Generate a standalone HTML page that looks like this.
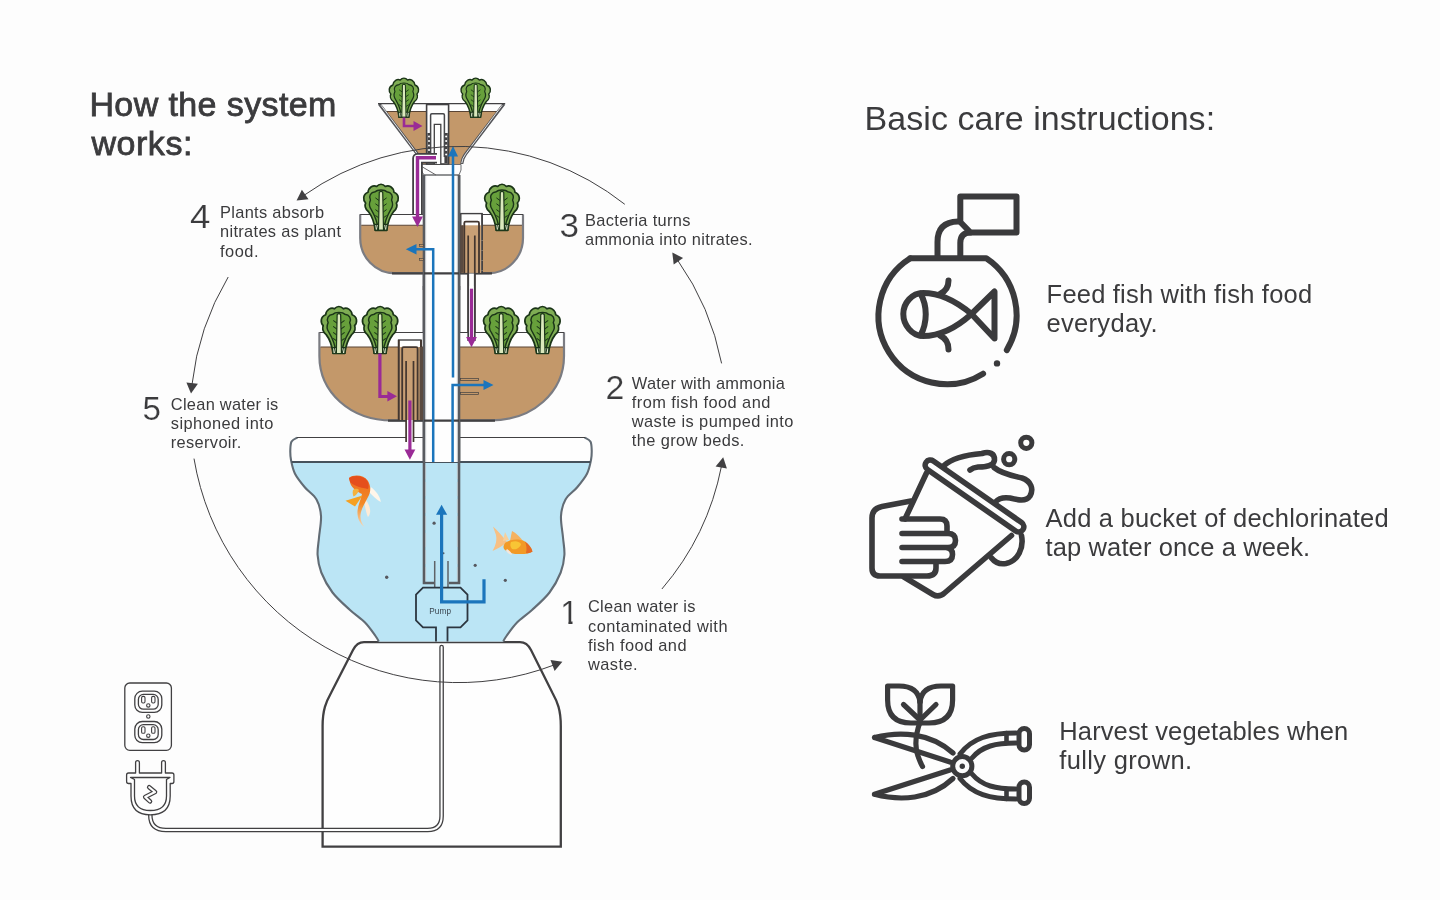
<!DOCTYPE html>
<html lang="en">
<head>
<meta charset="utf-8">
<title>How the system works</title>
<style>
html,body{margin:0;padding:0;background:#fdfdfd;}
body{width:1440px;height:900px;overflow:hidden;position:relative;font-family:"Liberation Sans",sans-serif;}
svg{position:absolute;left:0;top:0;display:block;will-change:transform;}
svg text{font-family:"Liberation Sans",sans-serif;white-space:pre;}
</style>
</head>
<body>
<svg width="1440" height="900" viewBox="0 0 1440 900">
<rect x="0" y="0" width="1440" height="900" fill="#fdfdfd"/>
<path d="M322.6,846.7 L322.6,726 C322.6,710 326,702 331,693 L353,650 Q357,642.2 364,642.2 L520,642.2 Q527,642.2 531,650 L552.5,693 C557.5,702 560.8,710 560.8,726 L560.8,846.7 Z" fill="#fefefe" stroke="#414042" stroke-width="2.3" stroke-linejoin="miter"/>
<clipPath id="resclip"><path d="M297.50,437.50 C296.52,438.17 292.80,439.42 291.60,441.50 C290.40,443.58 290.40,446.92 290.30,450.00 C290.20,453.08 290.22,456.05 291.00,460.00 C291.78,463.95 292.67,469.12 295.00,473.70 C297.33,478.28 301.42,483.20 305.00,487.50 C308.58,491.80 313.83,494.75 316.50,499.50 C319.17,504.25 320.58,509.67 321.00,516.00 C321.42,522.33 319.57,531.00 319.00,537.50 C318.43,544.00 317.22,549.17 317.60,555.00 C317.98,560.83 318.82,566.25 321.30,572.50 C323.78,578.75 327.72,586.25 332.50,592.50 C337.28,598.75 344.58,605.00 350.00,610.00 C355.42,615.00 360.75,618.17 365.00,622.50 C369.25,626.83 373.20,632.83 375.50,636.00 C377.80,639.17 378.25,640.58 378.80,641.50 L503.20,641.50 C503.75,640.58 504.20,639.17 506.50,636.00 C508.80,632.83 512.75,626.83 517.00,622.50 C521.25,618.17 526.58,615.00 532.00,610.00 C537.42,605.00 544.72,598.75 549.50,592.50 C554.28,586.25 558.22,578.75 560.70,572.50 C563.18,566.25 564.02,560.83 564.40,555.00 C564.78,549.17 563.57,544.00 563.00,537.50 C562.43,531.00 560.58,522.33 561.00,516.00 C561.42,509.67 562.83,504.25 565.50,499.50 C568.17,494.75 573.42,491.80 577.00,487.50 C580.58,483.20 584.67,478.28 587.00,473.70 C589.33,469.12 590.22,463.95 591.00,460.00 C591.78,456.05 591.80,453.08 591.70,450.00 C591.60,446.92 591.60,443.58 590.40,441.50 C589.20,439.42 585.48,438.17 584.50,437.50 Z"/></clipPath>
<path d="M297.50,437.50 C296.52,438.17 292.80,439.42 291.60,441.50 C290.40,443.58 290.40,446.92 290.30,450.00 C290.20,453.08 290.22,456.05 291.00,460.00 C291.78,463.95 292.67,469.12 295.00,473.70 C297.33,478.28 301.42,483.20 305.00,487.50 C308.58,491.80 313.83,494.75 316.50,499.50 C319.17,504.25 320.58,509.67 321.00,516.00 C321.42,522.33 319.57,531.00 319.00,537.50 C318.43,544.00 317.22,549.17 317.60,555.00 C317.98,560.83 318.82,566.25 321.30,572.50 C323.78,578.75 327.72,586.25 332.50,592.50 C337.28,598.75 344.58,605.00 350.00,610.00 C355.42,615.00 360.75,618.17 365.00,622.50 C369.25,626.83 373.20,632.83 375.50,636.00 C377.80,639.17 378.25,640.58 378.80,641.50 L503.20,641.50 C503.75,640.58 504.20,639.17 506.50,636.00 C508.80,632.83 512.75,626.83 517.00,622.50 C521.25,618.17 526.58,615.00 532.00,610.00 C537.42,605.00 544.72,598.75 549.50,592.50 C554.28,586.25 558.22,578.75 560.70,572.50 C563.18,566.25 564.02,560.83 564.40,555.00 C564.78,549.17 563.57,544.00 563.00,537.50 C562.43,531.00 560.58,522.33 561.00,516.00 C561.42,509.67 562.83,504.25 565.50,499.50 C568.17,494.75 573.42,491.80 577.00,487.50 C580.58,483.20 584.67,478.28 587.00,473.70 C589.33,469.12 590.22,463.95 591.00,460.00 C591.78,456.05 591.80,453.08 591.70,450.00 C591.60,446.92 591.60,443.58 590.40,441.50 C589.20,439.42 585.48,438.17 584.50,437.50 Z" fill="#fefefe"/>
<rect x="280" y="462" width="320" height="185" fill="#bbe5f5" clip-path="url(#resclip)"/>
<path d="M297.50,437.50 C296.52,438.17 292.80,439.42 291.60,441.50 C290.40,443.58 290.40,446.92 290.30,450.00 C290.20,453.08 290.22,456.05 291.00,460.00 C291.78,463.95 292.67,469.12 295.00,473.70 C297.33,478.28 301.42,483.20 305.00,487.50 C308.58,491.80 313.83,494.75 316.50,499.50 C319.17,504.25 320.58,509.67 321.00,516.00 C321.42,522.33 319.57,531.00 319.00,537.50 C318.43,544.00 317.22,549.17 317.60,555.00 C317.98,560.83 318.82,566.25 321.30,572.50 C323.78,578.75 327.72,586.25 332.50,592.50 C337.28,598.75 344.58,605.00 350.00,610.00 C355.42,615.00 360.75,618.17 365.00,622.50 C369.25,626.83 373.20,632.83 375.50,636.00 C377.80,639.17 378.25,640.58 378.80,641.50  M584.50,437.50 C585.48,438.17 589.20,439.42 590.40,441.50 C591.60,443.58 591.60,446.92 591.70,450.00 C591.80,453.08 591.78,456.05 591.00,460.00 C590.22,463.95 589.33,469.12 587.00,473.70 C584.67,478.28 580.58,483.20 577.00,487.50 C573.42,491.80 568.17,494.75 565.50,499.50 C562.83,504.25 561.42,509.67 561.00,516.00 C560.58,522.33 562.43,531.00 563.00,537.50 C563.57,544.00 564.78,549.17 564.40,555.00 C564.02,560.83 563.18,566.25 560.70,572.50 C558.22,578.75 554.28,586.25 549.50,592.50 C544.72,598.75 537.42,605.00 532.00,610.00 C526.58,615.00 521.25,618.17 517.00,622.50 C512.75,626.83 508.80,632.83 506.50,636.00 C504.20,639.17 503.75,640.58 503.20,641.50 " fill="none" stroke="#626c75" stroke-width="2.1"/>
<path d="M297,437.5 L585,437.5" stroke="#414042" stroke-width="1.2"/>
<path d="M291.5,462 L590.5,462" stroke="#46525c" stroke-width="2"/>
<circle cx="434.1" cy="523.2" r="1.6" fill="#56585f"/>
<circle cx="386.7" cy="577.3" r="1.7" fill="#56585f"/>
<circle cx="475.2" cy="565.3" r="1.6" fill="#56585f"/>
<circle cx="505.3" cy="580.3" r="1.6" fill="#56585f"/>
<circle cx="443.5" cy="553.3" r="1.0" fill="#56585f"/>
<filter id="bl" x="-20%" y="-20%" width="140%" height="140%"><feGaussianBlur stdDeviation="0.6"/></filter>
<g filter="url(#bl)"><path d="M370.8,487 C376,491 380,496 380.8,502 C377,500 373,496 369,492 Z" fill="#fff6ea"/><path d="M366,500 C370,506 372,512 368,517 C366,513 365,506 364,501 Z" fill="#fdebd6"/><linearGradient id="fg" x1="0" y1="0" x2="0" y2="1"><stop offset="0" stop-color="#ee6a20"/><stop offset="0.55" stop-color="#f28a26"/><stop offset="1" stop-color="#f6d9b8"/></linearGradient><path d="M349,478 C354,474 364,475 368,481 C371,486 371,492 368,497 C365,503 361,509 360.5,515 C360,520 362,524 364.5,527 C360,524 357,518 357.5,511 C358,505 361,499 362,494 C358,492 352,488 350.5,484 Z" fill="url(#fg)"/><path d="M349,478 C354,474.5 363,475.5 367,480.5 C369,484 369,487 368,489 C362,488 354,486 350,482 Z" fill="#e5501f"/><path d="M345.5,500.8 L362.5,495.5 L355,506.5 Z" fill="#f5a020"/><path d="M353,490 C355,488 358,488.5 359,490 C358,493 356,495.5 353.5,496.5 C352.5,494 352.5,492 353,490 Z" fill="#f4b23c"/><path d="M493,526.5 C498,531 503,537 507,542 C503,546 497,549 492.5,551 C496,545 497,540 496,535 Z" fill="#f7c084"/><path d="M505,532 L509,540 L503,541 Z" fill="#f8cf9a"/><path d="M512,531 C516,533 520,537 523,541 L510,541 Z" fill="#f5b260"/><path d="M505,543 C510,539 519,538.5 525,541.5 C529,544 531.5,548 532.5,551.5 C530,553.5 526,554 521,554 C515,554.5 508,553.5 504,549 C503,547 503.5,545 505,543 Z" fill="#f29a27"/><path d="M511,542 C515,540.5 519,541 521,544 C520,548 516,550 512,549 C510,547 510,544 511,542 Z" fill="#f8c535"/><path d="M525,541.5 C529,544 531.5,548 532.5,551.5 C530,553 528,553.5 526,553 C527,549 526.5,545 525,541.5 Z" fill="#e56a25"/><path d="M507,549 C510,551 512,553 512,555 C509,554.5 507,552.5 506,550.5 Z" fill="#f3e6dc"/></g>
<rect x="424" y="175" width="35" height="287" fill="#fefefe"/>
<path d="M421,164.5 L461,164.5 L461,170 L459,175 L424,175 L421,170 Z" fill="#fefefe" stroke="#6d6e71" stroke-width="1"/>
<path d="M422.5,167 L436,175" stroke="#414042" stroke-width="0.8"/>
<path d="M424,175 L459,175" stroke="#6d6e71" stroke-width="1"/>
<path d="M424,175 L424,583 L434,583 M459,175 L459,583 L449,583" fill="none" stroke="#595b60" stroke-width="2.6"/>
<path d="M425.6,176 L425.6,581.5 M457.4,176 L457.4,581.5" fill="none" stroke="#b9bcc0" stroke-width="0.8" stroke-dasharray="14 3"/>
<path d="M378.6,103.8 L504.6,103.8 L466,154 Q462.5,158.5 462,164 L421,164 Q420.5,158.5 417,154 Z" fill="#fefefe"/>
<path d="M384.5,111.5 L498.7,111.5 L466,154 Q462.5,158.5 462,164 L421,164 Q420.5,158.5 417,154 Z" fill="#c3986a"/>
<path d="M384.5,111.5 L498.7,111.5" stroke="#5a4535" stroke-width="1.2"/>
<path d="M379.2,103.8 L417.4,154 Q420.8,158.5 421.2,164 M504,103.8 L465.6,154 Q462.2,158.5 461.8,164" fill="none" stroke="#55565a" stroke-width="3"/>
<path d="M381,105.2 L417.4,154 Q420.8,158.5 421.2,163 M502.2,105.2 L465.6,154 Q462.2,158.5 461.8,163" fill="none" stroke="#f4f4f4" stroke-width="0.9"/>
<path d="M378,103.7 L505.2,103.7" stroke="#414042" stroke-width="1.3"/>
<rect x="426.6" y="104.5" width="22" height="59.5" fill="#fefefe" stroke="#414042" stroke-width="1.6"/>
<rect x="427.4" y="133" width="3.4" height="30" fill="#414042"/>
<rect x="444.4" y="133" width="3.4" height="30" fill="#414042"/>
<circle cx="429.1" cy="136.5" r="1.1" fill="#fff"/><circle cx="446.1" cy="136.5" r="1.1" fill="#fff"/>
<circle cx="429.1" cy="141" r="1.1" fill="#fff"/><circle cx="446.1" cy="141" r="1.1" fill="#fff"/>
<circle cx="429.1" cy="145.5" r="1.1" fill="#fff"/><circle cx="446.1" cy="145.5" r="1.1" fill="#fff"/>
<circle cx="429.1" cy="150" r="1.1" fill="#fff"/><circle cx="446.1" cy="150" r="1.1" fill="#fff"/>
<circle cx="429.1" cy="154.5" r="1.1" fill="#fff"/><circle cx="446.1" cy="154.5" r="1.1" fill="#fff"/>
<path d="M430.6,157 L430.6,115 Q430.6,113.8 431.8,113.8 L443.2,113.8 Q444.4,113.8 444.4,115 L444.4,157" fill="#fefefe" stroke="#47484b" stroke-width="1.5"/>
<path d="M434.3,164 L434.3,124.3 L440.8,124.3 L440.8,164" fill="#fefefe" stroke="#414042" stroke-width="1.3"/>
<path d="M437,158.2 L417.5,158.2 L417.5,215" fill="none" stroke="#414042" stroke-width="10.6" stroke-linejoin="round"/>
<path d="M437.5,158.2 L417.5,158.2 L417.5,216" fill="none" stroke="#fefefe" stroke-width="7" stroke-linejoin="round"/>
<clipPath id="mbc"><path d="M360.2,214.3 L360.2,238 C360.2,257.36 375.5,273.2 394.2,273.2 L489,273.2 C507.7,273.2 523,257.36 523,238 L523,214.3"/></clipPath>
<path d="M360.2,214.3 L360.2,238 C360.2,257.36 375.5,273.2 394.2,273.2 L489,273.2 C507.7,273.2 523,257.36 523,238 L523,214.3" fill="#fefefe"/>
<rect x="355" y="225.3" width="175" height="50" fill="#c3986a" clip-path="url(#mbc)"/>
<path d="M361.2,225.3 L522,225.3" stroke="#5a4535" stroke-width="1.1"/>
<path d="M360.2,214.3 L360.2,238 C360.2,257.36 375.5,273.2 394.2,273.2 L489,273.2 C507.7,273.2 523,257.36 523,238 L523,214.3" fill="none" stroke="#7b7c82" stroke-width="2.2"/>
<path d="M360.2,214.5 L523,214.5" stroke="#414042" stroke-width="1.1"/>
<path d="M392,273.4 L492,273.4" stroke="#414042" stroke-width="2.4"/>
<rect x="425" y="176" width="33" height="110" fill="#fefefe"/>
<path d="M424,175 L424,290 M459,175 L459,290" fill="none" stroke="#595b60" stroke-width="2.6"/>
<path d="M425.7,176 L425.7,290 M457.3,176 L457.3,290" fill="none" stroke="#c4c6c9" stroke-width="0.8"/>
<path d="M424,273.4 L459,273.4" stroke="#414042" stroke-width="2.2"/>
<rect x="419.3" y="244.6" width="4" height="1.8" fill="#c3986a" stroke="#414042" stroke-width="0.6"/>
<rect x="419.3" y="258.6" width="4" height="1.8" fill="#c3986a" stroke="#414042" stroke-width="0.6"/>
<rect x="460.8" y="213.6" width="21.3" height="59.4" fill="#fefefe" stroke="#414042" stroke-width="1.4"/>
<rect x="461.5" y="225.3" width="19.9" height="47.5" fill="#c9a075"/>
<rect x="460.3" y="225.3" width="3" height="47.5" fill="#5a4a40"/>
<path d="M482.1,213.6 L482.1,273" stroke="#414042" stroke-width="1.6"/>
<path d="M482.1,240 L482.1,273" stroke="#c9b7a5" stroke-width="0.7" stroke-dasharray="1 9"/>
<path d="M464.3,273 L464.3,223 Q464.3,221.6 465.7,221.6 L477.6,221.6 Q479,221.6 479,223 L479,273" fill="none" stroke="#43362f" stroke-width="1.8"/>
<rect x="468.2" y="273.5" width="6.6" height="68" fill="#fefefe"/>
<path d="M468.2,235.5 L468.2,341 M474.8,235.5 L474.8,341" stroke="#43362f" stroke-width="1.7"/>
<clipPath id="lbc"><path d="M319.4,332.2 L319.4,356 C319.4,392 350,420.4 392,420.4 L491,420.4 C533,420.4 564,392 564,356 L564,332.2"/></clipPath>
<path d="M319.4,332.2 L319.4,356 C319.4,392 350,420.4 392,420.4 L491,420.4 C533,420.4 564,392 564,356 L564,332.2" fill="#fefefe"/>
<rect x="315" y="347" width="255" height="76" fill="#c3986a" clip-path="url(#lbc)"/>
<path d="M320.4,347 L563,347" stroke="#5a4535" stroke-width="1.1"/>
<path d="M319.4,332.2 L319.4,356 C319.4,392 350,420.4 392,420.4 L491,420.4 C533,420.4 564,392 564,356 L564,332.2" fill="none" stroke="#7b7c82" stroke-width="2.2"/>
<path d="M319.4,332.5 L564,332.5" stroke="#414042" stroke-width="1.1"/>
<path d="M388,420.6 L495,420.6" stroke="#414042" stroke-width="2.4"/>
<rect x="425" y="286" width="33" height="176" fill="#fefefe"/>
<path d="M424,286 L424,462 M459,286 L459,462" fill="none" stroke="#595b60" stroke-width="2.6"/>
<path d="M425.7,286 L425.7,462 M457.3,286 L457.3,462" fill="none" stroke="#c4c6c9" stroke-width="0.8"/>
<path d="M424,420.6 L459,420.6" stroke="#414042" stroke-width="2.2"/>
<rect x="468.2" y="286" width="6.6" height="55" fill="#fefefe"/>
<path d="M468.2,273 L468.2,341 M474.8,273 L474.8,341" stroke="#414042" stroke-width="1.7"/>
<rect x="398.6" y="340" width="22.4" height="80" fill="#fefefe" stroke="#414042" stroke-width="1.4"/>
<rect x="399.3" y="347" width="21" height="73" fill="#c9a075"/>
<path d="M398.8,340 L398.8,420 M421,340 L421,420" stroke="#43362f" stroke-width="1.9"/>
<rect x="419.6" y="347" width="3.4" height="73" fill="#5a4a40"/>
<path d="M402.2,420 L402.2,348.5 Q402.2,347.2 403.5,347.2 L416.3,347.2 Q417.6,347.2 417.6,348.5 L417.6,420" fill="none" stroke="#43362f" stroke-width="1.8"/>
<rect x="406.1" y="420" width="7.2" height="22" fill="#fefefe"/>
<path d="M406.1,361 L406.1,442 M413.5,361 L413.5,442" stroke="#43362f" stroke-width="1.7"/>
<rect x="460.5" y="378.5" width="18" height="2" fill="#c3986a" stroke="#414042" stroke-width="0.7"/>
<rect x="460.5" y="392.5" width="18" height="2" fill="#c3986a" stroke="#414042" stroke-width="0.7"/>
<path d="M434.7,561 L434.7,587 M448,561 L448,587" stroke="#5f6368" stroke-width="1.5"/>
<path d="M436,641.5 L436,627.4 L423,627.4 L416,620.4 L416,594.6 L423,587.6 L460.5,587.6 L467.5,594.6 L467.5,620.4 L460.5,627.4 L447.5,627.4 L447.5,641.5" fill="none" stroke="#2c3640" stroke-width="1.8" stroke-linejoin="miter"/>
<g><path d="M399.00,117.30 C398.19,110.67 396.56,105.70 393.29,101.55 C390.03,99.07 390.03,95.75 390.84,94.09 C388.40,91.61 388.40,86.64 392.88,84.98 C393.29,80.84 397.37,78.35 400.23,80.01 C402.27,77.52 405.53,77.52 407.57,80.01 C410.43,78.35 414.51,80.84 414.92,84.98 C419.40,86.64 419.40,91.61 416.96,94.09 C417.77,95.75 417.77,99.07 414.51,101.55 C411.24,105.70 409.61,110.67 408.80,117.30 Z" fill="#7fad54" stroke="#1b3518" stroke-width="1.44" stroke-linejoin="round"/><path d="M401.45,116.47 C400.64,109.01 398.19,104.04 395.74,99.90 C393.29,96.58 394.11,93.27 394.92,91.61 C393.29,88.29 394.92,84.98 399.00,84.56 C400.64,82.49 407.16,82.49 408.80,84.56 C412.88,84.98 414.51,88.29 412.88,91.61 C413.69,93.27 414.51,96.58 412.06,99.90 C409.61,104.04 407.16,109.01 406.35,116.47 Z" fill="#67a03b" stroke="#1b3518" stroke-width="1.19" stroke-linejoin="round"/><path d="M402.27,92.02 L399.41,89.95 M405.53,92.02 L408.39,89.95 M402.27,97.00 L399.41,94.92 M405.53,97.00 L408.39,94.92 M402.27,101.97 L399.41,99.90 M405.53,101.97 L408.39,99.90 M402.27,106.94 L399.41,104.87 M405.53,106.94 L408.39,104.87 " fill="none" stroke="#1b3518" stroke-width="0.85" stroke-linecap="round"/><path d="M399.00,117.30 L398.51,112.33 L409.29,112.33 L408.80,117.30 Z" fill="#e3ecd2" stroke="#1b3518" stroke-width="1.02" stroke-linejoin="round"/><path d="M401.13,117.30 L400.15,112.33 M406.67,117.30 L407.65,112.33" fill="none" stroke="#1b3518" stroke-width="0.85"/><path d="M401.78,117.30 L402.43,84.98 Q403.90,83.32 405.37,84.98 L406.02,117.30 Z" fill="#dbe9bd" stroke="#1b3518" stroke-width="1.02" stroke-linejoin="round"/><path d="M399.00,117.30 L408.80,117.30" stroke="#1f3a1c" stroke-width="0.94" stroke-linecap="round"/></g>
<g><path d="M470.80,117.30 C469.99,110.67 468.36,105.70 465.09,101.55 C461.83,99.07 461.83,95.75 462.64,94.09 C460.20,91.61 460.20,86.64 464.68,84.98 C465.09,80.84 469.17,78.35 472.03,80.01 C474.07,77.52 477.33,77.52 479.37,80.01 C482.23,78.35 486.31,80.84 486.72,84.98 C491.20,86.64 491.20,91.61 488.76,94.09 C489.57,95.75 489.57,99.07 486.31,101.55 C483.04,105.70 481.41,110.67 480.60,117.30 Z" fill="#7fad54" stroke="#1b3518" stroke-width="1.44" stroke-linejoin="round"/><path d="M473.25,116.47 C472.44,109.01 469.99,104.04 467.54,99.90 C465.09,96.58 465.91,93.27 466.72,91.61 C465.09,88.29 466.72,84.98 470.80,84.56 C472.44,82.49 478.96,82.49 480.60,84.56 C484.68,84.98 486.31,88.29 484.68,91.61 C485.49,93.27 486.31,96.58 483.86,99.90 C481.41,104.04 478.96,109.01 478.15,116.47 Z" fill="#67a03b" stroke="#1b3518" stroke-width="1.19" stroke-linejoin="round"/><path d="M474.07,92.02 L471.21,89.95 M477.33,92.02 L480.19,89.95 M474.07,97.00 L471.21,94.92 M477.33,97.00 L480.19,94.92 M474.07,101.97 L471.21,99.90 M477.33,101.97 L480.19,99.90 M474.07,106.94 L471.21,104.87 M477.33,106.94 L480.19,104.87 " fill="none" stroke="#1b3518" stroke-width="0.85" stroke-linecap="round"/><path d="M470.80,117.30 L470.31,112.33 L481.09,112.33 L480.60,117.30 Z" fill="#e3ecd2" stroke="#1b3518" stroke-width="1.02" stroke-linejoin="round"/><path d="M472.93,117.30 L471.95,112.33 M478.47,117.30 L479.45,112.33" fill="none" stroke="#1b3518" stroke-width="0.85"/><path d="M473.58,117.30 L474.23,84.98 Q475.70,83.32 477.17,84.98 L477.82,117.30 Z" fill="#dbe9bd" stroke="#1b3518" stroke-width="1.02" stroke-linejoin="round"/><path d="M470.80,117.30 L480.60,117.30" stroke="#1f3a1c" stroke-width="0.94" stroke-linecap="round"/></g>
<g><path d="M375.24,230.30 C374.28,222.50 372.36,216.65 368.52,211.78 C364.68,208.85 364.68,204.95 365.64,203.00 C362.76,200.08 362.76,194.23 368.04,192.28 C368.52,187.40 373.32,184.48 376.68,186.43 C379.08,183.50 382.92,183.50 385.32,186.43 C388.68,184.48 393.48,187.40 393.96,192.28 C399.24,194.23 399.24,200.08 396.36,203.00 C397.32,204.95 397.32,208.85 393.48,211.78 C389.64,216.65 387.72,222.50 386.76,230.30 Z" fill="#7fad54" stroke="#1b3518" stroke-width="1.70" stroke-linejoin="round"/><path d="M378.12,229.33 C377.16,220.55 374.28,214.70 371.40,209.83 C368.52,205.93 369.48,202.03 370.44,200.08 C368.52,196.18 370.44,192.28 375.24,191.79 C377.16,189.35 384.84,189.35 386.76,191.79 C391.56,192.28 393.48,196.18 391.56,200.08 C392.52,202.03 393.48,205.93 390.60,209.83 C387.72,214.70 384.84,220.55 383.88,229.33 Z" fill="#67a03b" stroke="#1b3518" stroke-width="1.40" stroke-linejoin="round"/><path d="M379.08,200.56 L375.72,198.12 M382.92,200.56 L386.28,198.12 M379.08,206.41 L375.72,203.98 M382.92,206.41 L386.28,203.98 M379.08,212.26 L375.72,209.83 M382.92,212.26 L386.28,209.83 M379.08,218.11 L375.72,215.68 M382.92,218.11 L386.28,215.68 " fill="none" stroke="#1b3518" stroke-width="1.00" stroke-linecap="round"/><path d="M375.24,230.30 L374.66,224.45 L387.34,224.45 L386.76,230.30 Z" fill="#e3ecd2" stroke="#1b3518" stroke-width="1.20" stroke-linejoin="round"/><path d="M377.74,230.30 L376.58,224.45 M384.26,230.30 L385.42,224.45" fill="none" stroke="#1b3518" stroke-width="1.00"/><path d="M378.50,230.30 L379.27,192.28 Q381.00,190.33 382.73,192.28 L383.50,230.30 Z" fill="#dbe9bd" stroke="#1b3518" stroke-width="1.20" stroke-linejoin="round"/><path d="M375.24,230.30 L386.76,230.30" stroke="#1f3a1c" stroke-width="1.10" stroke-linecap="round"/></g>
<g><path d="M496.24,230.30 C495.28,222.50 493.36,216.65 489.52,211.78 C485.68,208.85 485.68,204.95 486.64,203.00 C483.76,200.08 483.76,194.23 489.04,192.28 C489.52,187.40 494.32,184.48 497.68,186.43 C500.08,183.50 503.92,183.50 506.32,186.43 C509.68,184.48 514.48,187.40 514.96,192.28 C520.24,194.23 520.24,200.08 517.36,203.00 C518.32,204.95 518.32,208.85 514.48,211.78 C510.64,216.65 508.72,222.50 507.76,230.30 Z" fill="#7fad54" stroke="#1b3518" stroke-width="1.70" stroke-linejoin="round"/><path d="M499.12,229.33 C498.16,220.55 495.28,214.70 492.40,209.83 C489.52,205.93 490.48,202.03 491.44,200.08 C489.52,196.18 491.44,192.28 496.24,191.79 C498.16,189.35 505.84,189.35 507.76,191.79 C512.56,192.28 514.48,196.18 512.56,200.08 C513.52,202.03 514.48,205.93 511.60,209.83 C508.72,214.70 505.84,220.55 504.88,229.33 Z" fill="#67a03b" stroke="#1b3518" stroke-width="1.40" stroke-linejoin="round"/><path d="M500.08,200.56 L496.72,198.12 M503.92,200.56 L507.28,198.12 M500.08,206.41 L496.72,203.98 M503.92,206.41 L507.28,203.98 M500.08,212.26 L496.72,209.83 M503.92,212.26 L507.28,209.83 M500.08,218.11 L496.72,215.68 M503.92,218.11 L507.28,215.68 " fill="none" stroke="#1b3518" stroke-width="1.00" stroke-linecap="round"/><path d="M496.24,230.30 L495.66,224.45 L508.34,224.45 L507.76,230.30 Z" fill="#e3ecd2" stroke="#1b3518" stroke-width="1.20" stroke-linejoin="round"/><path d="M498.74,230.30 L497.58,224.45 M505.26,230.30 L506.42,224.45" fill="none" stroke="#1b3518" stroke-width="1.00"/><path d="M499.50,230.30 L500.27,192.28 Q502.00,190.33 503.73,192.28 L504.50,230.30 Z" fill="#dbe9bd" stroke="#1b3518" stroke-width="1.20" stroke-linejoin="round"/><path d="M496.24,230.30 L507.76,230.30" stroke="#1f3a1c" stroke-width="1.10" stroke-linecap="round"/></g>
<g><path d="M333.02,353.50 C332.05,345.54 330.09,339.58 326.17,334.60 C322.25,331.62 322.25,327.64 323.23,325.65 C320.30,322.67 320.30,316.70 325.68,314.71 C326.17,309.74 331.07,306.76 334.49,308.75 C336.94,305.76 340.86,305.76 343.31,308.75 C346.73,306.76 351.63,309.74 352.12,314.71 C357.50,316.70 357.50,322.67 354.57,325.65 C355.55,327.64 355.55,331.62 351.63,334.60 C347.71,339.58 345.75,345.54 344.78,353.50 Z" fill="#7fad54" stroke="#1b3518" stroke-width="1.73" stroke-linejoin="round"/><path d="M335.96,352.51 C334.98,343.56 332.05,337.59 329.11,332.62 C326.17,328.64 327.15,324.66 328.13,322.67 C326.17,318.69 328.13,314.71 333.02,314.22 C334.98,311.73 342.82,311.73 344.78,314.22 C349.67,314.71 351.63,318.69 349.67,322.67 C350.65,324.66 351.63,328.64 348.69,332.62 C345.75,337.59 342.82,343.56 341.84,352.51 Z" fill="#67a03b" stroke="#1b3518" stroke-width="1.43" stroke-linejoin="round"/><path d="M336.94,323.17 L333.51,320.68 M340.86,323.17 L344.29,320.68 M336.94,329.13 L333.51,326.65 M340.86,329.13 L344.29,326.65 M336.94,335.10 L333.51,332.62 M340.86,335.10 L344.29,332.62 M336.94,341.07 L333.51,338.58 M340.86,341.07 L344.29,338.58 " fill="none" stroke="#1b3518" stroke-width="1.02" stroke-linecap="round"/><path d="M333.02,353.50 L332.44,347.53 L345.36,347.53 L344.78,353.50 Z" fill="#e3ecd2" stroke="#1b3518" stroke-width="1.22" stroke-linejoin="round"/><path d="M335.57,353.50 L334.40,347.53 M342.23,353.50 L343.40,347.53" fill="none" stroke="#1b3518" stroke-width="1.02"/><path d="M336.35,353.50 L337.14,314.71 Q338.90,312.73 340.66,314.71 L341.45,353.50 Z" fill="#dbe9bd" stroke="#1b3518" stroke-width="1.22" stroke-linejoin="round"/><path d="M333.02,353.50 L344.78,353.50" stroke="#1f3a1c" stroke-width="1.12" stroke-linecap="round"/></g>
<g><path d="M374.22,353.50 C373.25,345.54 371.29,339.58 367.37,334.60 C363.45,331.62 363.45,327.64 364.43,325.65 C361.50,322.67 361.50,316.70 366.88,314.71 C367.37,309.74 372.27,306.76 375.69,308.75 C378.14,305.76 382.06,305.76 384.51,308.75 C387.93,306.76 392.83,309.74 393.32,314.71 C398.70,316.70 398.70,322.67 395.77,325.65 C396.75,327.64 396.75,331.62 392.83,334.60 C388.91,339.58 386.95,345.54 385.98,353.50 Z" fill="#7fad54" stroke="#1b3518" stroke-width="1.73" stroke-linejoin="round"/><path d="M377.16,352.51 C376.18,343.56 373.25,337.59 370.31,332.62 C367.37,328.64 368.35,324.66 369.33,322.67 C367.37,318.69 369.33,314.71 374.22,314.22 C376.18,311.73 384.02,311.73 385.98,314.22 C390.87,314.71 392.83,318.69 390.87,322.67 C391.85,324.66 392.83,328.64 389.89,332.62 C386.95,337.59 384.02,343.56 383.04,352.51 Z" fill="#67a03b" stroke="#1b3518" stroke-width="1.43" stroke-linejoin="round"/><path d="M378.14,323.17 L374.71,320.68 M382.06,323.17 L385.49,320.68 M378.14,329.13 L374.71,326.65 M382.06,329.13 L385.49,326.65 M378.14,335.10 L374.71,332.62 M382.06,335.10 L385.49,332.62 M378.14,341.07 L374.71,338.58 M382.06,341.07 L385.49,338.58 " fill="none" stroke="#1b3518" stroke-width="1.02" stroke-linecap="round"/><path d="M374.22,353.50 L373.64,347.53 L386.56,347.53 L385.98,353.50 Z" fill="#e3ecd2" stroke="#1b3518" stroke-width="1.22" stroke-linejoin="round"/><path d="M376.77,353.50 L375.60,347.53 M383.43,353.50 L384.60,347.53" fill="none" stroke="#1b3518" stroke-width="1.02"/><path d="M377.55,353.50 L378.34,314.71 Q380.10,312.73 381.86,314.71 L382.65,353.50 Z" fill="#dbe9bd" stroke="#1b3518" stroke-width="1.22" stroke-linejoin="round"/><path d="M374.22,353.50 L385.98,353.50" stroke="#1f3a1c" stroke-width="1.12" stroke-linecap="round"/></g>
<g><path d="M495.32,353.50 C494.35,345.54 492.39,339.58 488.47,334.60 C484.55,331.62 484.55,327.64 485.53,325.65 C482.60,322.67 482.60,316.70 487.98,314.71 C488.47,309.74 493.37,306.76 496.79,308.75 C499.24,305.76 503.16,305.76 505.61,308.75 C509.03,306.76 513.93,309.74 514.42,314.71 C519.80,316.70 519.80,322.67 516.87,325.65 C517.85,327.64 517.85,331.62 513.93,334.60 C510.01,339.58 508.05,345.54 507.08,353.50 Z" fill="#7fad54" stroke="#1b3518" stroke-width="1.73" stroke-linejoin="round"/><path d="M498.26,352.51 C497.28,343.56 494.35,337.59 491.41,332.62 C488.47,328.64 489.45,324.66 490.43,322.67 C488.47,318.69 490.43,314.71 495.32,314.22 C497.28,311.73 505.12,311.73 507.08,314.22 C511.97,314.71 513.93,318.69 511.97,322.67 C512.95,324.66 513.93,328.64 510.99,332.62 C508.05,337.59 505.12,343.56 504.14,352.51 Z" fill="#67a03b" stroke="#1b3518" stroke-width="1.43" stroke-linejoin="round"/><path d="M499.24,323.17 L495.81,320.68 M503.16,323.17 L506.59,320.68 M499.24,329.13 L495.81,326.65 M503.16,329.13 L506.59,326.65 M499.24,335.10 L495.81,332.62 M503.16,335.10 L506.59,332.62 M499.24,341.07 L495.81,338.58 M503.16,341.07 L506.59,338.58 " fill="none" stroke="#1b3518" stroke-width="1.02" stroke-linecap="round"/><path d="M495.32,353.50 L494.74,347.53 L507.66,347.53 L507.08,353.50 Z" fill="#e3ecd2" stroke="#1b3518" stroke-width="1.22" stroke-linejoin="round"/><path d="M497.87,353.50 L496.70,347.53 M504.53,353.50 L505.70,347.53" fill="none" stroke="#1b3518" stroke-width="1.02"/><path d="M498.65,353.50 L499.44,314.71 Q501.20,312.73 502.96,314.71 L503.75,353.50 Z" fill="#dbe9bd" stroke="#1b3518" stroke-width="1.22" stroke-linejoin="round"/><path d="M495.32,353.50 L507.08,353.50" stroke="#1f3a1c" stroke-width="1.12" stroke-linecap="round"/></g>
<g><path d="M536.62,353.50 C535.65,345.54 533.69,339.58 529.77,334.60 C525.85,331.62 525.85,327.64 526.83,325.65 C523.90,322.67 523.90,316.70 529.28,314.71 C529.77,309.74 534.67,306.76 538.09,308.75 C540.54,305.76 544.46,305.76 546.91,308.75 C550.33,306.76 555.23,309.74 555.72,314.71 C561.10,316.70 561.10,322.67 558.17,325.65 C559.15,327.64 559.15,331.62 555.23,334.60 C551.31,339.58 549.35,345.54 548.38,353.50 Z" fill="#7fad54" stroke="#1b3518" stroke-width="1.73" stroke-linejoin="round"/><path d="M539.56,352.51 C538.58,343.56 535.65,337.59 532.71,332.62 C529.77,328.64 530.75,324.66 531.73,322.67 C529.77,318.69 531.73,314.71 536.62,314.22 C538.58,311.73 546.42,311.73 548.38,314.22 C553.27,314.71 555.23,318.69 553.27,322.67 C554.25,324.66 555.23,328.64 552.29,332.62 C549.35,337.59 546.42,343.56 545.44,352.51 Z" fill="#67a03b" stroke="#1b3518" stroke-width="1.43" stroke-linejoin="round"/><path d="M540.54,323.17 L537.11,320.68 M544.46,323.17 L547.89,320.68 M540.54,329.13 L537.11,326.65 M544.46,329.13 L547.89,326.65 M540.54,335.10 L537.11,332.62 M544.46,335.10 L547.89,332.62 M540.54,341.07 L537.11,338.58 M544.46,341.07 L547.89,338.58 " fill="none" stroke="#1b3518" stroke-width="1.02" stroke-linecap="round"/><path d="M536.62,353.50 L536.04,347.53 L548.96,347.53 L548.38,353.50 Z" fill="#e3ecd2" stroke="#1b3518" stroke-width="1.22" stroke-linejoin="round"/><path d="M539.17,353.50 L538.00,347.53 M545.83,353.50 L547.00,347.53" fill="none" stroke="#1b3518" stroke-width="1.02"/><path d="M539.95,353.50 L540.74,314.71 Q542.50,312.73 544.26,314.71 L545.05,353.50 Z" fill="#dbe9bd" stroke="#1b3518" stroke-width="1.22" stroke-linejoin="round"/><path d="M536.62,353.50 L548.38,353.50" stroke="#1f3a1c" stroke-width="1.12" stroke-linecap="round"/></g>
<path d="M453,156 L453,377.5 M452.6,462 L452.6,385 L484,385" fill="none" stroke="#1b75bc" stroke-width="2.5"/>
<polygon points="453,146 458,156.5 448,156.5" fill="#1b75bc"/>
<polygon points="493.5,385 483.5,380 483.5,390" fill="#1b75bc"/>
<path d="M433.2,462 L433.2,249.2 L416,249.2" fill="none" stroke="#1b75bc" stroke-width="2.5"/>
<polygon points="405.8,249.2 416.5,244 416.5,254.4" fill="#1b75bc"/>
<path d="M441.6,514 L441.6,601.9 L484,601.9 L484,579.2" fill="none" stroke="#1b75bc" stroke-width="3.2" stroke-linejoin="miter"/>
<polygon points="441.6,504.8 447.2,514.8 436,514.8" fill="#1b75bc"/>
<path d="M404,117.5 L404,126 L414,126" fill="none" stroke="#9a2b96" stroke-width="2.6"/>
<polygon points="422.5,126 413.5,121 413.5,131" fill="#9a2b96"/>
<path d="M436,157.8 L417.5,157.8 L417.5,217" fill="none" stroke="#9a2b96" stroke-width="3.4" stroke-linejoin="miter"/>
<polygon points="417.5,227 412.1,216.5 422.9,216.5" fill="#9a2b96"/>
<path d="M471.5,288.7 L471.5,338" fill="none" stroke="#9a2b96" stroke-width="3.2"/>
<polygon points="471.5,347.3 466.1,337 476.9,337" fill="#9a2b96"/>
<path d="M379.9,353.5 L379.9,396.5 L388,396.5" fill="none" stroke="#9a2b96" stroke-width="3.2"/>
<polygon points="397,396.3 387.4,391 387.4,401.6" fill="#9a2b96"/>
<path d="M409.9,400.5 L409.9,450" fill="none" stroke="#9a2b96" stroke-width="3.2"/>
<polygon points="409.9,459.8 404.5,449.5 415.3,449.5" fill="#9a2b96"/>
<path d="M441.6,647 L441.6,816 Q441.6,830 427.6,830 L166,830 Q150.3,830 150.3,815" fill="none" stroke="#414042" stroke-width="4.6" stroke-linecap="round"/>
<path d="M441.6,647 L441.6,816 Q441.6,830 427.6,830 L166,830 Q150.3,830 150.3,815" fill="none" stroke="#fefefe" stroke-width="2.0" stroke-linecap="round"/>
<rect x="124.8" y="683" width="46.6" height="67.3" rx="5" fill="#fefefe" stroke="#414042" stroke-width="1.3"/>
<rect x="134.8" y="691.1999999999999" width="27" height="21.2" rx="7.5" fill="none" stroke="#414042" stroke-width="1.3"/>
<rect x="138.4" y="694.4" width="19.8" height="14.8" rx="5" fill="none" stroke="#414042" stroke-width="1.3"/>
<rect x="141.6" y="696.4" width="3.4" height="6.6" rx="1.4" fill="none" stroke="#414042" stroke-width="1.1"/>
<rect x="151.6" y="696.4" width="3.4" height="6.6" rx="1.4" fill="none" stroke="#414042" stroke-width="1.1"/>
<circle cx="148.3" cy="705.4" r="1.7" fill="none" stroke="#414042" stroke-width="1.1"/>
<rect x="134.8" y="721.5" width="27" height="21.2" rx="7.5" fill="none" stroke="#414042" stroke-width="1.3"/>
<rect x="138.4" y="724.7" width="19.8" height="14.8" rx="5" fill="none" stroke="#414042" stroke-width="1.3"/>
<rect x="141.6" y="726.7" width="3.4" height="6.6" rx="1.4" fill="none" stroke="#414042" stroke-width="1.1"/>
<rect x="151.6" y="726.7" width="3.4" height="6.6" rx="1.4" fill="none" stroke="#414042" stroke-width="1.1"/>
<circle cx="148.3" cy="735.7" r="1.7" fill="none" stroke="#414042" stroke-width="1.1"/>
<circle cx="148.3" cy="716.5" r="1.7" fill="none" stroke="#414042" stroke-width="1.1"/>
<path d="M135.6,773 L135.6,762.6 Q135.6,760.6 137.5,760.6 Q139.4,760.6 139.4,762.6 L139.4,773 L161.6,773 L161.6,762.6 Q161.6,760.6 163.5,760.6 Q165.4,760.6 165.4,762.6 L165.4,773 L172,773 Q173.9,773 173.9,775 L173.9,781.5 Q173.9,783.5 172,783.5 L170.2,783.5 L170.2,796 Q170.2,814.8 150.3,814.8 Q131,814.8 131,796 L131,783.5 L128.6,783.5 Q126.6,783.5 126.6,781.5 L126.6,775 Q126.6,773 128.6,773 Z" fill="#fefefe" stroke="#414042" stroke-width="1.3" stroke-linejoin="round"/>
<path d="M130.5,777.5 L170,777.5 L166.5,779.5 L166.5,796 Q166.5,810.5 150.3,810.5 Q134.5,810.5 134.5,796 L134.5,779.5 Z" fill="none" stroke="#414042" stroke-width="1.3" stroke-linejoin="round"/>
<path d="M149.2,787.2 L155,792 L145.2,797 L150,801.4" fill="none" stroke="#414042" stroke-width="4.6" stroke-linejoin="round" stroke-linecap="round"/>
<path d="M149.2,787.2 L155,792 L145.2,797 L150,801.4" fill="none" stroke="#fefefe" stroke-width="2.1" stroke-linejoin="round" stroke-linecap="round"/>
<path d="M661.9,589.0 A268.1,268.1 0 0 0 721.5,466.0" fill="none" stroke="#414042" stroke-width="1"/>
<polygon points="723.2,457.2 726.9,468.6 715.6,466.4" fill="#414042"/>
<path d="M721.6,363.4 A268.1,268.1 0 0 0 677.5,260.0" fill="none" stroke="#414042" stroke-width="1"/>
<polygon points="672.3,252.6 683.1,257.9 673.7,264.5" fill="#414042"/>
<path d="M624.8,204.3 A268.1,268.1 0 0 0 304.0,195.3" fill="none" stroke="#414042" stroke-width="1"/>
<polygon points="296.6,200.5 301.9,189.8 308.5,199.2" fill="#414042"/>
<path d="M228.2,277.0 A268.1,268.1 0 0 0 192.0,384.5" fill="none" stroke="#414042" stroke-width="1"/>
<polygon points="191.0,393.4 186.4,382.4 197.9,383.7" fill="#414042"/>
<path d="M194.0,458.6 A268.1,268.1 0 0 0 554.0,665.0" fill="none" stroke="#414042" stroke-width="1"/>
<polygon points="562.4,661.8 554.6,670.9 550.5,660.1" fill="#414042"/>
<path d="M960.3,196.5 L1016.5,196.5 L1016.5,232.5 L970,232.5 M960.3,196.5 L960.3,222 L969.5,231.5" fill="none" stroke="#3a3a3c" stroke-width="6" stroke-linecap="round" stroke-linejoin="round" />
<path d="M937.5,258 L937.5,242 Q937.5,222 958,221.5 M960.3,258 L960.3,243 Q960.3,233 970,232.5" fill="none" stroke="#3a3a3c" stroke-width="6" stroke-linecap="round" stroke-linejoin="round" />
<path d="M910.3,258.3 L986.3,258.3 A68.2,68.2 0 0 1 1006.8,350.1" fill="none" stroke="#3a3a3c" stroke-width="6" stroke-linecap="round" stroke-linejoin="round" />
<path d="M983.1,373.7 A68.2,68.2 0 1 1 910.3,258.3" fill="none" stroke="#3a3a3c" stroke-width="6" stroke-linecap="round" stroke-linejoin="round" />
<circle cx="997" cy="363.4" r="3.2" fill="#3a3a3c"/>
<path d="M994.5,291.5 L994.5,338.5 L971.5,314 Z" fill="none" stroke="#3a3a3c" stroke-width="6" stroke-linecap="round" stroke-linejoin="round" />
<path d="M971.5,314 C956,301 940,293 923,293 C912,293 903.3,303 903.3,314 C903.3,325 912,336 923,336 C940,336 956,328 971.5,314" fill="none" stroke="#3a3a3c" stroke-width="6" stroke-linecap="round" stroke-linejoin="round" />
<path d="M920.5,293.5 C927.5,306 927.5,322 920.5,335.5" fill="none" stroke="#3a3a3c" stroke-width="6" stroke-linecap="round" stroke-linejoin="round" />
<path d="M940,294 Q948.5,290 948.5,280.5 M940,335.5 Q948.5,339.5 948.5,349.5" fill="none" stroke="#3a3a3c" stroke-width="6" stroke-linecap="round" stroke-linejoin="round" />
<g transform="translate(974.5,496) rotate(34.9)"><rect x="-59" y="-5.2" width="118" height="10.4" rx="5.2" fill="none" stroke="#3a3a3c" stroke-width="5.6"/></g>
<path d="M926.5,473 L905,519 M904,577 L933,594.5 Q939,598 944.5,593 L1011.5,535.5" fill="none" stroke="#3a3a3c" stroke-width="5.6" stroke-linecap="round" stroke-linejoin="round" />
<path d="M911,501 L882,506.5 Q872,508.5 872,518 L872,568 Q872,576 880,576 L927,576 Q936,576 936,568 L936,562" fill="none" stroke="#3a3a3c" stroke-width="5.6" stroke-linecap="round" stroke-linejoin="round" />
<path d="M902,519 L940,519 Q947,519 947,526 L947,533.5 M902,533.5 L948,533.5 Q955.5,533.5 955.5,540.5 Q955.5,547.5 948,547.5 L902,547.5 M946,547.5 Q952.5,548 952.5,554.5 Q952.5,561.5 945,561.5 L902,561.5" fill="none" stroke="#3a3a3c" stroke-width="5.6" stroke-linecap="round" stroke-linejoin="round" />
<path d="M944,465.5 C952,458 965,455 982,453.5 C989,451 995,453.5 994.5,460 C994,466 986,467 978,467 Q973,467.5 970,470" fill="none" stroke="#3a3a3c" stroke-width="5.6" stroke-linecap="round" stroke-linejoin="round" />
<path d="M994,467.5 C1002,474 1014,476 1022,478 C1031,481 1034,489 1030,496 C1026,502 1018,500 1010,498 C1003,497 998,499 995.5,502" fill="none" stroke="#3a3a3c" stroke-width="5.6" stroke-linecap="round" stroke-linejoin="round" />
<circle cx="1009.2" cy="459.2" r="5.6" fill="none" stroke="#3a3a3c" stroke-width="5"/>
<circle cx="1026.3" cy="442.8" r="5.6" fill="none" stroke="#3a3a3c" stroke-width="5"/>
<path d="M1021.5,535.5 C1024,548 1018,561 1006,563.5 C1000,564.5 995,562.5 991.5,558" fill="none" stroke="#3a3a3c" stroke-width="5.6" stroke-linecap="round" stroke-linejoin="round" />
<path d="M887.6,686 L899,686 Q918,686 920,702 M887.6,686 L887.6,700 Q887.6,723 911,723 L920,723" fill="none" stroke="#3a3a3c" stroke-width="5.2" stroke-linecap="round" stroke-linejoin="round" />
<path d="M952.6,686 L941,686 Q922,686 920,702 M952.6,686 L952.6,700 Q952.6,723 929,723 L920,723" fill="none" stroke="#3a3a3c" stroke-width="5.2" stroke-linecap="round" stroke-linejoin="round" />
<path d="M920,701 L920,722 C915.5,735 915,748 918,756 Q920,762 922.5,766.5" fill="none" stroke="#3a3a3c" stroke-width="5.2" stroke-linecap="round" stroke-linejoin="round" />
<path d="M920,720 L903.5,704.5 M920,720 L936,704.5" fill="none" stroke="#3a3a3c" stroke-width="5.2" stroke-linecap="round" stroke-linejoin="round" />
<path d="M874.5,737.5 C900,731 930,732.5 953,753 M874.5,737.5 L950,762" fill="none" stroke="#3a3a3c" stroke-width="5.2" stroke-linecap="round" stroke-linejoin="round" />
<path d="M874.5,794.3 C900,801 930,800 953,778.5 M874.5,794.3 L950,770" fill="none" stroke="#3a3a3c" stroke-width="5.2" stroke-linecap="round" stroke-linejoin="round" />
<circle cx="962.3" cy="766.2" r="9.6" fill="#fdfdfd" stroke="#3a3a3c" stroke-width="5"/>
<circle cx="962.3" cy="766.2" r="2.7" fill="#3a3a3c"/>
<path d="M960,754 C972,738 990,733 1016,733 M972,758 C982,746 996,743 1016,743" fill="none" stroke="#3a3a3c" stroke-width="5" stroke-linecap="round" stroke-linejoin="round" />
<path d="M960,778.5 C972,794 990,799 1016,799 M972,774 C982,786 996,789 1016,789" fill="none" stroke="#3a3a3c" stroke-width="5" stroke-linecap="round" stroke-linejoin="round" />
<path d="M1006.5,733 L1006.5,743 M1006.5,789 L1006.5,799" fill="none" stroke="#3a3a3c" stroke-width="4.6" stroke-linecap="round" stroke-linejoin="round" />
<rect x="1019" y="728.5" width="10.5" height="21.5" rx="5.2" fill="#fdfdfd" stroke="#3a3a3c" stroke-width="5"/>
<rect x="1019" y="782" width="10.5" height="21.5" rx="5.2" fill="#fdfdfd" stroke="#3a3a3c" stroke-width="5"/>
<text x="89.4" y="116" font-size="34" font-weight="400" fill="#3b3b3d" textLength="247" lengthAdjust="spacing" stroke="#3b3b3d" stroke-width="0.8" >How the system</text>
<text x="91.4" y="154.6" font-size="34" font-weight="400" fill="#3b3b3d" textLength="101" lengthAdjust="spacing" stroke="#3b3b3d" stroke-width="0.8" >works:</text>
<text x="864.6" y="130" font-size="34" font-weight="400" fill="#3b3b3d" textLength="350.5" lengthAdjust="spacing" >Basic care instructions:</text>
<text x="1046.6" y="302.5" font-size="25.5" font-weight="400" fill="#3b3b3d" textLength="265.5" lengthAdjust="spacing" >Feed fish with fish food</text>
<text x="1046.6" y="331.6" font-size="25.5" font-weight="400" fill="#3b3b3d" textLength="111" lengthAdjust="spacing" >everyday.</text>
<text x="1045.6" y="526.8" font-size="25.5" font-weight="400" fill="#3b3b3d" textLength="343" lengthAdjust="spacing" >Add a bucket of dechlorinated</text>
<text x="1045.6" y="555.7" font-size="25.5" font-weight="400" fill="#3b3b3d" textLength="264.6" lengthAdjust="spacing" >tap water once a week.</text>
<text x="1059.3" y="740.1" font-size="25.5" font-weight="400" fill="#3b3b3d" textLength="289" lengthAdjust="spacing" >Harvest vegetables when</text>
<text x="1059.3" y="769" font-size="25.5" font-weight="400" fill="#3b3b3d" textLength="132.7" lengthAdjust="spacing" >fully grown.</text>
<text x="0" y="0" font-size="32.5" font-weight="400" fill="#3b3b3d" stroke="#fdfdfd" stroke-width="0.2" transform="translate(559.5,237.3) scale(1.08,1)">3</text>
<text x="585" y="225.8" font-size="16.4" font-weight="400" fill="#3b3b3d" textLength="105.5" lengthAdjust="spacing" >Bacteria turns</text>
<text x="585" y="245.1" font-size="16.4" font-weight="400" fill="#3b3b3d" textLength="167.5" lengthAdjust="spacing" >ammonia into nitrates.</text>
<text x="0" y="0" font-size="32.5" font-weight="400" fill="#3b3b3d" stroke="#fdfdfd" stroke-width="0.2" transform="translate(605.5,399.3) scale(1.04,1)">2</text>
<text x="631.8" y="388.6" font-size="16.4" font-weight="400" fill="#3b3b3d" textLength="153" lengthAdjust="spacing" >Water with ammonia</text>
<text x="631.8" y="407.8" font-size="16.4" font-weight="400" fill="#3b3b3d" textLength="138.5" lengthAdjust="spacing" >from fish food and</text>
<text x="631.8" y="427" font-size="16.4" font-weight="400" fill="#3b3b3d" textLength="161.5" lengthAdjust="spacing" >waste is pumped into</text>
<text x="631.8" y="446.2" font-size="16.4" font-weight="400" fill="#3b3b3d" textLength="112.5" lengthAdjust="spacing" >the grow beds.</text>
<clipPath id="one"><path d="M-2,-30 H20 V-3.6 H12.3 V3 H8.2 V-3.6 H-2 Z"/></clipPath>
<text x="0" y="0" font-size="32.5" font-weight="400" fill="#3b3b3d" stroke="#fdfdfd" stroke-width="0.2" transform="translate(560.2,624.3) scale(1.0,1)" clip-path="url(#one)">1</text>
<text x="588" y="612.4" font-size="16.4" font-weight="400" fill="#3b3b3d" textLength="107.5" lengthAdjust="spacing" >Clean water is</text>
<text x="588" y="631.6" font-size="16.4" font-weight="400" fill="#3b3b3d" textLength="139.5" lengthAdjust="spacing" >contaminated with</text>
<text x="588" y="650.8" font-size="16.4" font-weight="400" fill="#3b3b3d" textLength="98.5" lengthAdjust="spacing" >fish food and</text>
<text x="588" y="670" font-size="16.4" font-weight="400" fill="#3b3b3d" textLength="49.5" lengthAdjust="spacing" >waste.</text>
<text x="0" y="0" font-size="32.5" font-weight="400" fill="#3b3b3d" stroke="#fdfdfd" stroke-width="0.2" transform="translate(190,228.4) scale(1.13,1)">4</text>
<text x="220" y="218.2" font-size="16.4" font-weight="400" fill="#3b3b3d" textLength="104" lengthAdjust="spacing" >Plants absorb</text>
<text x="220" y="237.4" font-size="16.4" font-weight="400" fill="#3b3b3d" textLength="121" lengthAdjust="spacing" >nitrates as plant</text>
<text x="220" y="256.6" font-size="16.4" font-weight="400" fill="#3b3b3d" textLength="38.5" lengthAdjust="spacing" >food.</text>
<text x="0" y="0" font-size="32.5" font-weight="400" fill="#3b3b3d" stroke="#fdfdfd" stroke-width="0.2" transform="translate(142.5,420.4) scale(1.02,1)">5</text>
<text x="170.8" y="409.7" font-size="16.4" font-weight="400" fill="#3b3b3d" textLength="107.5" lengthAdjust="spacing" >Clean water is</text>
<text x="170.8" y="428.9" font-size="16.4" font-weight="400" fill="#3b3b3d" textLength="102.5" lengthAdjust="spacing" >siphoned into</text>
<text x="170.8" y="448.1" font-size="16.4" font-weight="400" fill="#3b3b3d" textLength="70.5" lengthAdjust="spacing" >reservoir.</text>
<text x="429.2" y="614.2" font-size="8.2" font-weight="400" fill="#3a4650" textLength="21.8" lengthAdjust="spacing" >Pump</text>
</svg>
</body>
</html>
